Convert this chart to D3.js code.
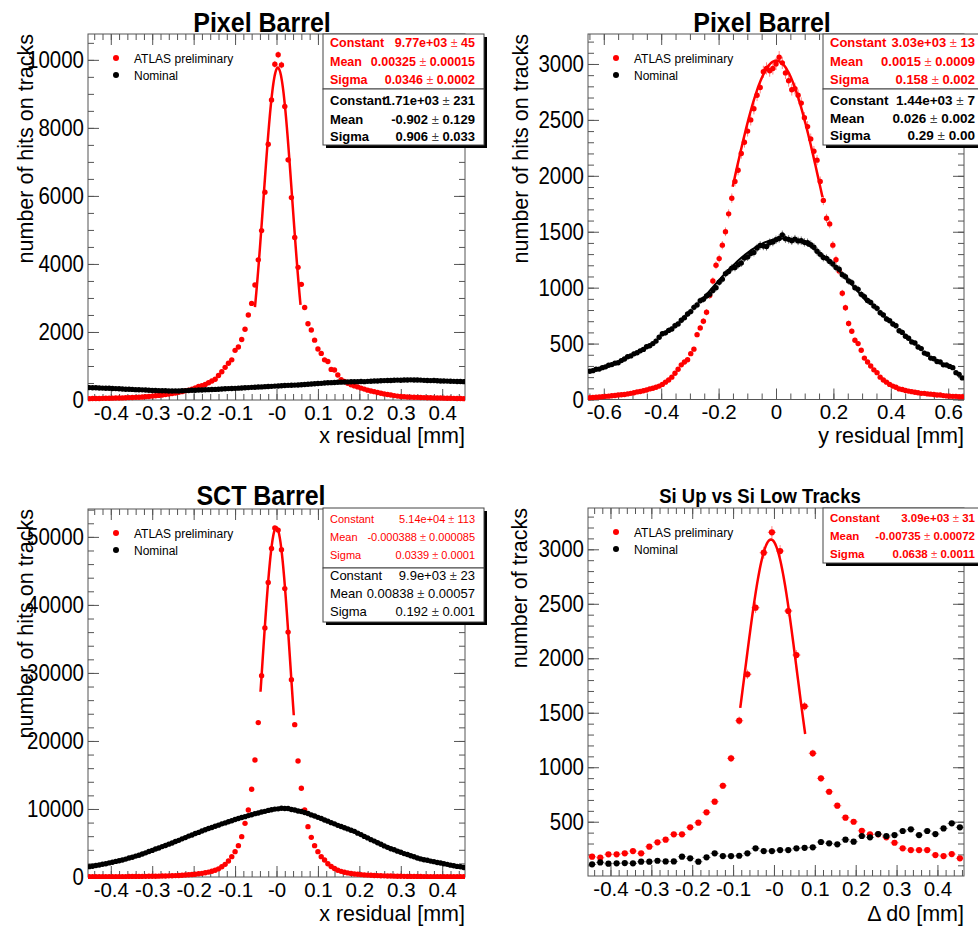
<!DOCTYPE html>
<html>
<head>
<meta charset="utf-8">
<script src="https://cdn.jsdelivr.net/npm/d3@7"></script>
<style>
  body { margin: 0; background: #fff; }
  text { font-family: "Liberation Sans", Arial, Helvetica, sans-serif; }
  .tall { transform-box: fill-box; transform-origin: 50% 50%; transform: scaleY(1.15); }
  .tallish { transform-box: fill-box; transform-origin: 50% 100%; transform: scaleY(1.08); }
</style>
</head>
<body>
<svg id="chart" width="978" height="927"></svg>
<script>
// ---------- data (bin contents) ----------
// Pixel barrel x residual, 114 bins of 0.008 mm starting at -0.452
const pixX_red = [40,42,45,45,48,50,52,55,58,60, 62,65,70,72,78,82,90,98,105,115,
  125,135,148,160,175,190,205,225,245,270, 290,320,355,395,420,455,505,560,610,720,
  830,960,1080,1180,1460,1560,1780,2080,2500,2840, 3380,4120,4980,6110,7520,8820,9870,10150,9850,8630,
  7060,5950,4780,3900,3400,2720,2240,2060,1760,1500, 1370,1180,1130,900,880,735,600,545,490,450,
  415,385,350,320,290,265,245,220,200,180, 160,145,130,115,105,98,90,85,80,78,
  75,70,68,65,62,60,58,55,52,50, 48,45,42,40];
const pixX_black = [365,360,362,352,350,346,345,338,335,330, 325,318,315,312,305,300,298,292,288,282,
  278,275,270,272,266,264,268,265,270,275, 278,285,288,292,296,300,305,308,312,318,
  322,330,335,340,342,348,352,360,365,372, 375,380,385,392,398,402,408,412,420,425,
  430,435,438,442,450,456,462,470,478,485, 490,498,505,510,515,520,525,528,532,535,
  538,540,545,540,548,552,558,560,565,570, 575,572,580,585,582,590,588,592,586,590,
  585,578,575,570,572,565,560,558,555,550, 548,545,542,540];

// Pixel barrel y residual, 119 bins of 0.011 mm starting at -0.649
const pixY_red = [15,18,20,22,25,28,30,33,36,40, 42,45,50,55,60,68,72,78,85,95,
  100,110,120,135,155,175,200,235,270,310, 335,355,410,450,580,640,700,780,930,1060,
  1200,1260,1380,1500,1660,1800,1950,2050,2200,2300, 2400,2500,2600,2720,2790,2930,2960,2940,2960,3000,
  3060,3010,2920,2850,2770,2780,2720,2650,2520,2440, 2330,2220,2140,1950,1780,1620,1570,1380,1250,1150,
  950,820,680,610,530,500,440,370,335,300, 265,240,200,175,155,135,120,110,95,90,
  80,75,70,65,60,55,55,50,48,45, 40,40,35,32,30,28,28,25,25];
const pixY_black = [253,258,270,272,285,292,306,312,325,328, 348,362,382,390,408,418,435,448,472,480,
  500,522,556,588,596,618,630,660,676,708, 732,765,786,824,846,884,896,925,940,975,
  1000,1048,1076,1125,1145,1175,1180,1205,1220,1265, 1275,1305,1315,1355,1378,1372,1368,1402,1408,1428,
  1440,1472,1438,1432,1420,1434,1418,1420,1405,1402, 1385,1362,1325,1298,1270,1262,1235,1212,1180,1165,
  1115,1098,1060,1045,1000,985,940,920,885,868, 835,815,775,755,720,705,675,660,615,600,
  565,548,515,505,470,455,415,405,370,365, 340,335,310,308,296,285,240,225,193];

// SCT barrel x residual, 114 bins of 0.008 mm starting at -0.452
const sct_red = [30,32,35,38,40,42,45,48,50,55, 58,62,66,70,75,80,86,92,100,108,
  118,128,140,155,170,188,208,230,258,290, 320,360,410,470,540,620,720,850,1000,1200,
  1500,1860,2350,2990,3730,4610,5930,7890,9850,12900, 17200,22700,29600,36600,43300,48300,51300,51000,48100,42400,
  36000,29000,22400,17050,13050,9850,7400,5830,4610,3730, 2990,2500,1950,1550,1250,1000,830,700,600,520,
  450,400,350,310,280,250,225,205,185,168, 152,138,125,115,105,96,88,82,76,70,
  65,60,56,52,48,45,42,40,38,36, 34,32,30,28];
const sct_black = [1520,1590,1700,1770,1870,1940,2070,2160,2290,2380, 2510,2630,2790,2910,3070,3190,3390,3550,3750,3910,
  4110,4270,4470,4630,4830,4990,5210,5390,5610,5790, 6010,6180,6390,6560,6770,6940,7130,7280,7470,7620,
  7810,7950,8130,8270,8450,8590,8750,8870,9030,9150, 9310,9410,9550,9650,9790,9890,9980,10020,10110,10070,
  10060,9930,9840,9710,9620,9490,9330,9130,8970,8770, 8610,8390,8210,7990,7810,7590,7430,7230,7070,6870,
  6710,6450,6230,5970,5750,5490,5280,5030,4820,4570, 4360,4160,4000,3800,3640,3440,3300,3120,2980,2800,
  2660,2540,2460,2340,2260,2140,2060,1940,1860,1740, 1660,1560,1500,1390];

// Si up vs Si low tracks, 46 bins of 0.02 mm starting at -0.445
const d0_red = [179,170,201,201,210,231,210,271,311,335, 384,384,449,491,586,684,830,1082,1427,1853,
  2464,2969,3156,2984,2434,2030,1559,1128,898,775, 647,537,500,417,384,384,357,307,256,240,
  240,240,194,185,203,164];
const d0_black = [109,127,115,118,121,118,133,133,142,136, 136,179,164,133,173,210,185,185,188,210,
  256,231,231,240,240,256,261,265,314,302, 293,335,317,369,357,387,369,378,415,430,
  378,415,387,439,485,449];

// gaussian fit parameters [constant, mean, sigma] and drawn ranges
const fitPixX_red = [9770, 0.00325, 0.0346], fitRangePixX_red = [-0.052, 0.058];
const fitPixY_red = [3030, 0.0015, 0.158], fitRangePixY_red = [-0.151, 0.162];
const fitPixY_black = [1440, 0.026, 0.29], fitRangePixY_black = [-0.264, 0.316];
const fitSct_red = [51400, -0.000388, 0.0339], fitRangeSct_red = [-0.0386, 0.0417];
const fitD0_red = [3090, -0.00735, 0.0638], fitRangeD0_red = [-0.0825, 0.0764];

// stats box texts
const statNames = ["Constant", "Mean", "Sigma"];
const statsPixX_red = [["9.77e+03", "45"], ["0.00325", "0.00015"], ["0.0346", "0.0002"]];
const statsPixX_black = [["1.71e+03", "231"], ["-0.902", "0.129"], ["0.906", "0.033"]];
const statsPixY_red = [["3.03e+03", "13"], ["0.0015", "0.0009"], ["0.158", "0.002"]];
const statsPixY_black = [["1.44e+03", "7"], ["0.026", "0.002"], ["0.29", "0.00"]];
const statsSct_red = [["5.14e+04", "113"], ["-0.000388", "0.000085"], ["0.0339", "0.0001"]];
const statsSct_black = [["9.9e+03", "23"], ["0.00838", "0.00057"], ["0.192", "0.001"]];
const statsD0_red = [["3.09e+03", "31"], ["-0.00735", "0.00072"], ["0.0638", "0.0011"]];

// tick labels
const xTicks45 = [-0.4, -0.3, -0.2, -0.1, 0, 0.1, 0.2, 0.3, 0.4];
const xLabels45 = ["-0.4", "-0.3", "-0.2", "-0.1", "-0", "0.1", "0.2", "0.3", "0.4"];
const xTicks65 = [-0.6, -0.4, -0.2, 0, 0.2, 0.4, 0.6];
const xLabels65 = ["-0.6", "-0.4", "-0.2", "0", "0.2", "0.4", "0.6"];
const yTicksPixX = [0, 2000, 4000, 6000, 8000, 10000];
const yTicksPixY = [0, 500, 1000, 1500, 2000, 2500, 3000];
const yTicksSct = [0, 10000, 20000, 30000, 40000, 50000];
const yTicksD0 = [500, 1000, 1500, 2000, 2500, 3000];
const legendLabels = ["ATLAS preliminary", "Nominal"];

const RED = "#ff0000";
const FRAME = "#555";
const svg = d3.select("#chart");

function binCenters(start, width, n) {
  return d3.range(n).map(i => start + i * width);
}

function minorRange(domain, step) {
  const a = Math.ceil(domain[0] / step - 1e-9), b = Math.floor(domain[1] / step + 1e-9);
  return d3.range(a, b + 1).map(k => +(k * step).toFixed(6));
}

function gauss(p, v) {
  return p[0] * Math.exp(-0.5 * Math.pow((v - p[1]) / p[2], 2));
}

function drawPanel(p) {
  const g = svg.append("g");
  const x = d3.scaleLinear().domain(p.xDomain).range([p.left, p.right]);
  const y = d3.scaleLinear().domain(p.yDomain).range([p.bottom, p.top]);

  const clipId = "clip" + p.id;
  svg.append("clipPath").attr("id", clipId).append("rect")
    .attr("x", p.left).attr("y", p.top - 2)
    .attr("width", p.right - p.left).attr("height", p.bottom - p.top + 4);

  // minor ticks (all four sides)
  const xm = minorRange(p.xDomain, p.xMinor), ym = minorRange(p.yDomain, p.yMinor);
  const minorAxes = [
    [d3.axisBottom(x).tickValues(xm), `translate(0,${p.bottom})`],
    [d3.axisTop(x).tickValues(xm), `translate(0,${p.top})`],
    [d3.axisLeft(y).tickValues(ym), `translate(${p.left},0)`],
    [d3.axisRight(y).tickValues(ym), `translate(${p.right},0)`]
  ];
  minorAxes.forEach(([ax, tr]) => {
    const a = g.append("g").attr("transform", tr)
      .call(ax.tickSizeInner(-6).tickSizeOuter(0).tickFormat(""));
    a.select(".domain").remove();
    a.selectAll("line").attr("stroke", FRAME);
  });

  // major ticks
  const xb = g.append("g").attr("transform", `translate(0,${p.bottom})`)
    .call(d3.axisBottom(x).tickValues(p.xTicks).tickFormat((d, i) => p.xLabels[i])
      .tickSizeInner(-11).tickSizeOuter(0).tickPadding(5));
  const yl = g.append("g").attr("transform", `translate(${p.left},0)`)
    .call(d3.axisLeft(y).tickValues(p.yTicks).tickFormat(d => d)
      .tickSizeInner(-11).tickSizeOuter(0).tickPadding(4));
  const xt = g.append("g").attr("transform", `translate(0,${p.top})`)
    .call(d3.axisTop(x).tickValues(p.xTicks).tickFormat("").tickSizeInner(-11).tickSizeOuter(0));
  const yr = g.append("g").attr("transform", `translate(${p.right},0)`)
    .call(d3.axisRight(y).tickValues(p.yTicks).tickFormat("").tickSizeInner(-11).tickSizeOuter(0));
  [xb, yl, xt, yr].forEach(a => {
    a.select(".domain").remove();
    a.selectAll("line").attr("stroke", FRAME);
    a.attr("font-family", null).attr("font-size", null);
    a.selectAll("text").attr("fill", "#000");
  });
  xb.selectAll("text").attr("font-size", 20.5);
  yl.selectAll("text").attr("font-size", 20.5).attr("class", "tall");

  // frame
  g.append("rect").attr("x", p.left).attr("y", p.top)
    .attr("width", p.right - p.left).attr("height", p.bottom - p.top)
    .attr("fill", "none").attr("stroke", FRAME).attr("stroke-width", 1);

  // data points with error bars
  const plot = g.append("g").attr("clip-path", `url(#${clipId})`);
  const xs = binCenters(p.binStart, p.binWidth, p.red.length);
  [[p.red, RED, "#ff8080"], [p.black, "#000", "#777"]].forEach(([vals, col, ecol]) => {
    const pts = vals.map((v, i) => ({ xv: xs[i], v: v }));
    const eb = plot.append("g").attr("stroke", ecol).attr("stroke-width", 1);
    eb.selectAll("line.v").data(pts).join("line").attr("class", "v")
      .attr("x1", d => x(d.xv)).attr("x2", d => x(d.xv))
      .attr("y1", d => y(d.v - Math.sqrt(d.v))).attr("y2", d => y(d.v + Math.sqrt(d.v)));
    if (p.xErrors) {
      eb.selectAll("line.h").data(pts).join("line").attr("class", "h")
        .attr("x1", d => x(d.xv - p.binWidth / 2)).attr("x2", d => x(d.xv + p.binWidth / 2))
        .attr("y1", d => y(d.v)).attr("y2", d => y(d.v));
    }
    plot.append("g").selectAll("circle").data(pts).join("circle")
      .attr("cx", d => x(d.xv)).attr("cy", d => y(d.v))
      .attr("r", p.r).attr("fill", col);
  });

  // fit curves
  const line = d3.line().x(d => x(d[0])).y(d => y(d[1]));
  p.fits.forEach(([par, range, col, w]) => {
    const pts = d3.range(0, 101).map(k => {
      const v = range[0] + (range[1] - range[0]) * k / 100;
      return [v, gauss(par, v)];
    });
    plot.append("path").datum(pts).attr("d", line)
      .attr("fill", "none").attr("stroke", col).attr("stroke-width", w);
  });

  // legend
  const lx = p.left + 28;
  [[RED, p.top + 24], ["#000", p.top + 41]].forEach(([col, ly], i) => {
    g.append("circle").attr("cx", lx).attr("cy", ly).attr("r", 3).attr("fill", col);
    g.append("text").attr("x", lx + 18).attr("y", ly + 4.5).attr("font-size", 12)
      .text(legendLabels[i]);
  });

  // stats boxes
  p.stats.forEach(s => {
    const h = s.y1 - s.y0, w = s.x1 - s.x0;
    g.append("rect").attr("x", s.x0 + 3).attr("y", s.y0 + 3).attr("width", w).attr("height", h)
      .attr("fill", "#000");
    g.append("rect").attr("x", s.x0).attr("y", s.y0).attr("width", w).attr("height", h)
      .attr("fill", "#fff").attr("stroke", "#444").attr("stroke-width", 1);
    s.rows.forEach((r, i) => {
      g.append("text").attr("x", s.x0 + 7).attr("y", s.base[i])
        .attr("fill", s.color).attr("font-size", s.size).attr("font-weight", s.weight)
        .text(statNames[i]);
      const t = g.append("text").attr("x", s.x1 - 9).attr("y", s.base[i])
        .attr("text-anchor", "end").attr("fill", s.color)
        .attr("font-size", s.size).attr("font-weight", s.weight);
      t.append("tspan").text(r[0] + " ");
      t.append("tspan").attr("font-weight", "normal").attr("fill-opacity", 0.75).text("\u00b1");
      t.append("tspan").text(" " + r[1]);
    });
  });

  // titles
  g.append("text").attr("x", p.titleX).attr("y", p.titleY).attr("text-anchor", "middle")
    .attr("class", "tallish")
    .attr("font-size", p.titleSize).attr("font-weight", "bold").text(p.title);
  g.append("text").attr("x", p.right).attr("y", p.xTitleY).attr("text-anchor", "end")
    .attr("font-size", 21.5).text(p.xTitle);
  g.append("text").attr("transform", `translate(${p.yTitleX},${p.top}) rotate(-90)`)
    .attr("text-anchor", "end").attr("font-size", 21.5).text(p.yTitle);
}

const panels = [
  {
    id: 1, left: 88, right: 465, top: 34, bottom: 400,
    xDomain: [-0.455, 0.455], yDomain: [0, 10760],
    xTicks: xTicks45, xLabels: xLabels45, xMinor: 0.02,
    yTicks: yTicksPixX, yMinor: 500,
    binStart: -0.452, binWidth: 0.008, red: pixX_red, black: pixX_black, r: 2.7, xErrors: false,
    fits: [[fitPixX_red, fitRangePixX_red, RED, 2.5]],
    stats: [
      { x0: 323, y0: 34, x1: 484, y1: 89, color: RED, size: 12.5, weight: "bold", rows: statsPixX_red, base: [47, 66, 84] },
      { x0: 323, y0: 89, x1: 484, y1: 145, color: "#000", size: 13, weight: "bold", rows: statsPixX_black, base: [105, 124, 141] }
    ],
    title: "Pixel Barrel", titleX: 262, titleY: 32, titleSize: 25,
    xTitle: "x residual [mm]", xTitleY: 443,
    yTitle: "number of hits on tracks", yTitleX: 33
  },
  {
    id: 2, left: 588, right: 964, top: 34, bottom: 399.5,
    xDomain: [-0.655, 0.655], yDomain: [0, 3268],
    xTicks: xTicks65, xLabels: xLabels65, xMinor: 0.05,
    yTicks: yTicksPixY, yMinor: 100,
    binStart: -0.649, binWidth: 0.011, red: pixY_red, black: pixY_black, r: 2.7, xErrors: false,
    fits: [[fitPixY_red, fitRangePixY_red, RED, 2.5], [fitPixY_black, fitRangePixY_black, "#000", 2]],
    stats: [
      { x0: 823, y0: 34, x1: 984, y1: 89, color: RED, size: 13, weight: "bold", rows: statsPixY_red, base: [47, 66, 84] },
      { x0: 823, y0: 89, x1: 984, y1: 145, color: "#000", size: 13.5, weight: "bold", rows: statsPixY_black, base: [105, 123, 140] }
    ],
    title: "Pixel Barrel", titleX: 762, titleY: 32, titleSize: 25,
    xTitle: "y residual [mm]", xTitleY: 443,
    yTitle: "number of hits on tracks", yTitleX: 528
  },
  {
    id: 3, left: 88, right: 465, top: 509, bottom: 877,
    xDomain: [-0.455, 0.455], yDomain: [0, 54100],
    xTicks: xTicks45, xLabels: xLabels45, xMinor: 0.02,
    yTicks: yTicksSct, yMinor: 2000,
    binStart: -0.452, binWidth: 0.008, red: sct_red, black: sct_black, r: 2.7, xErrors: false,
    fits: [[fitSct_red, fitRangeSct_red, RED, 2.5]],
    stats: [
      { x0: 323, y0: 508, x1: 484, y1: 568, color: RED, size: 11, weight: "normal", rows: statsSct_red, base: [523, 541, 559] },
      { x0: 323, y0: 568, x1: 484, y1: 622, color: "#000", size: 13, weight: "normal", rows: statsSct_black, base: [580, 598, 616] }
    ],
    title: "SCT Barrel", titleX: 261, titleY: 505, titleSize: 25,
    xTitle: "x residual [mm]", xTitleY: 921,
    yTitle: "number of hits on tracks", yTitleX: 33
  },
  {
    id: 4, left: 588, right: 964, top: 508, bottom: 876,
    xDomain: [-0.455, 0.465], yDomain: [2, 3379],
    xTicks: xTicks45, xLabels: xLabels45, xMinor: 0.02,
    yTicks: yTicksD0, yMinor: 100,
    binStart: -0.445, binWidth: 0.02, red: d0_red, black: d0_black, r: 3.1, xErrors: true,
    fits: [[fitD0_red, fitRangeD0_red, RED, 2.5]],
    stats: [
      { x0: 823, y0: 508, x1: 984, y1: 563, color: RED, size: 11.5, weight: "bold", rows: statsD0_red, base: [522, 540, 558] }
    ],
    title: "Si Up vs Si Low Tracks", titleX: 760, titleY: 503, titleSize: 18.5,
    xTitle: "\u0394 d0 [mm]", xTitleY: 921,
    yTitle: "number of tracks", yTitleX: 527
  }
];

panels.forEach(drawPanel);
</script>
</body>
</html>
